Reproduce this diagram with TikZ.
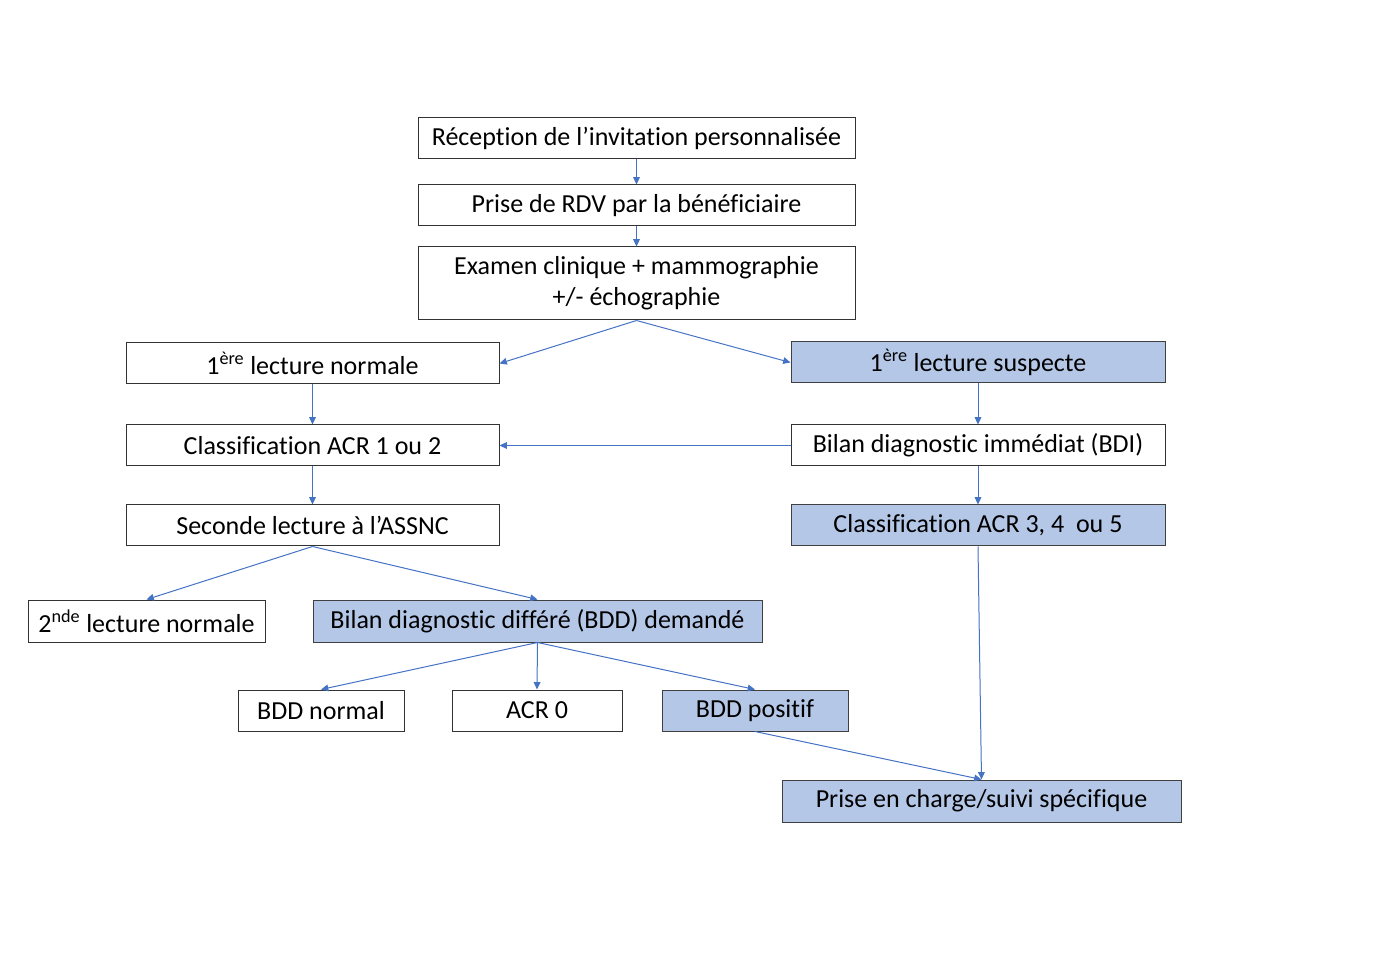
\documentclass[tikz,border=0pt]{standalone}
\usepackage{fontspec}
\setmainfont{Carlito}[Ligatures=NoCommon]
\usepackage{tikz}
\usetikzlibrary{arrows.meta,positioning}
\definecolor{bleuclair}{HTML}{B4C7E7}
\definecolor{bleufleche}{HTML}{4472C4}

\begin{document}
\begin{tikzpicture}[x=0.75pt,y=-0.75pt,
  box/.style={draw=black!80,line width=0.75pt,minimum height=30.75pt,inner sep=0pt,
    font=\fontsize{19.5}{23.25}\selectfont,align=center},
  bluebox/.style={box,fill=bleuclair,draw=black!75},
  flow/.style={-{Triangle[length=5.5pt,width=5pt]},draw=bleufleche,line width=0.75pt}]
  \useasboundingbox (0,0) rectangle (1386,980);
  \node[box,minimum width=327.75pt] (recep) at (636.5,138.5) {Réception de l’invitation personnalisée};
  \node[box,minimum width=327.75pt] (rdv) at (636.5,205.5) {Prise de RDV par la bénéficiaire};
  \node[box,minimum width=327.75pt,minimum height=54.75pt] (examen) at (636.5,283.5) {Examen clinique + mammographie\\+/- échographie};
  \node[box,minimum width=279.75pt] (lectnorm) at (312.5,363.5) {1\textsuperscript{ère} lecture normale};
  \node[bluebox,minimum width=280.5pt] (lectsusp) at (978,362.5) {1\textsuperscript{ère} lecture suspecte};
  \node[box,minimum width=279.75pt] (acrun) at (312.5,445.5) {Classification ACR 1 ou 2};
  \node[box,minimum width=280.5pt] (bdi) at (978,445.5) {Bilan diagnostic immédiat (BDI)};
  \node[box,minimum width=279.75pt] (seconde) at (312.5,525.5) {Seconde lecture à l’ASSNC};
  \node[bluebox,minimum width=280.5pt] (acrtrois) at (978,525.5) {Classification ACR 3, 4~ ou 5};
  \node[box,minimum width=177.75pt,minimum height=31.5pt] (lectdeux) at (146.5,621) {2\textsuperscript{nde} lecture normale};
  \node[bluebox,minimum width=336.75pt,minimum height=31.5pt] (bdd) at (537.5,621) {Bilan diagnostic différé (BDD) demandé};
  \node[box,minimum width=124.5pt] (bddnorm) at (321,710.5) {BDD normal};
  \node[box,minimum width=127.5pt] (acrzero) at (537,710.5) {ACR 0};
  \node[bluebox,minimum width=139.5pt] (bddpos) at (755,710.5) {BDD positif};
  \node[bluebox,minimum width=299.25pt,minimum height=31.5pt] (priseenc) at (981.5,801) {Prise en charge/suivi spécifique};

  \draw[flow] (recep) -- (rdv);
  \draw[flow] (rdv) -- (examen);
  \draw[flow] (examen.south) -- (lectnorm.east);
  \draw[flow] (examen.south) -- (lectsusp.west);
  \draw[flow] (lectnorm) -- (acrun);
  \draw[flow] (lectsusp) -- (bdi);
  \draw[flow] (bdi) -- (acrun);
  \draw[flow] (acrun) -- (seconde);
  \draw[flow] (bdi) -- (acrtrois);
  \draw[flow] (seconde.south) -- (lectdeux.north);
  \draw[flow] (seconde.south) -- (bdd.north);
  \draw[flow] (bdd.south) -- (bddnorm.north);
  \draw[flow] (bdd.south) -- (acrzero.north);
  \draw[flow] (bdd.south) -- (bddpos.north);
  \draw[flow] (acrtrois.south) -- (priseenc.north);
  \draw[flow] (bddpos.south) -- (priseenc.north);
\end{tikzpicture}
\end{document}
